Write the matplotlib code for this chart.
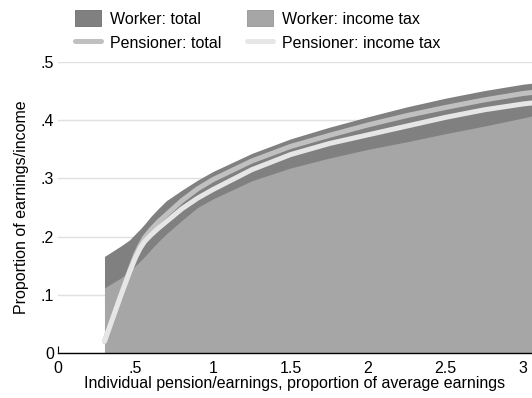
import matplotlib.pyplot as plt
from matplotlib.patches import Patch
from matplotlib.lines import Line2D

plt.rcParams['font.family'] = ['Liberation Sans', 'DejaVu Sans']

# earnings / pension as a proportion of average earnings
x = [0.3, 0.4, 0.46, 0.5, 0.53, 0.56, 0.6, 0.65, 0.7, 0.8, 0.9, 1.0,
     1.25, 1.5, 1.75, 2.0, 2.25, 2.5, 2.75, 3.0, 3.1]

worker_total = [0.166, 0.183, 0.194, 0.205, 0.213, 0.222, 0.235, 0.249,
                0.262, 0.280, 0.297, 0.312, 0.343, 0.368, 0.388, 0.406,
                0.423, 0.438, 0.451, 0.462, 0.465]
worker_tax = [0.112, 0.128, 0.140, 0.150, 0.158, 0.166, 0.178, 0.192,
              0.205, 0.228, 0.250, 0.265, 0.296, 0.318, 0.335, 0.350,
              0.363, 0.377, 0.390, 0.404, 0.410]
pens_total = [0.020, 0.095, 0.140, 0.168, 0.185, 0.199, 0.212, 0.226,
              0.238, 0.262, 0.282, 0.298, 0.330, 0.355, 0.374, 0.392,
              0.408, 0.422, 0.435, 0.446, 0.449]
pens_tax = [0.020, 0.095, 0.138, 0.164, 0.180, 0.192, 0.203, 0.215,
            0.226, 0.248, 0.266, 0.281, 0.315, 0.341, 0.360, 0.375,
            0.390, 0.405, 0.418, 0.428, 0.431]

xticks = [0, 0.5, 1, 1.5, 2, 2.5, 3]
xtick_labels = ['0', '.5', '1', '1.5', '2', '2.5', '3']
yticks = [0, 0.1, 0.2, 0.3, 0.4, 0.5]
ytick_labels = ['0', '.1', '.2', '.3', '.4', '.5']

c_wtot = '#808080'
c_wtax = '#a6a6a6'
c_ptot = '#c0c0c0'
c_ptax = '#e6e6e6'

fig = plt.figure(figsize=(5.32, 3.98), dpi=100)
ax = fig.add_axes([0.109, 0.113, 0.891, 0.731])

ax.fill_between(x, 0, worker_total, color=c_wtot, lw=0)
ax.fill_between(x, 0, worker_tax, color=c_wtax, lw=0)
ax.plot(x, pens_total, color=c_ptot, lw=3.6, solid_capstyle='round',
        solid_joinstyle='round')
ax.plot(x, pens_tax, color=c_ptax, lw=3.6, solid_capstyle='round',
        solid_joinstyle='round')

ax.set_xlim(0, 3.058)
ax.set_ylim(0, 0.5)
ax.set_xticks(xticks)
ax.set_xticklabels(xtick_labels)
ax.set_yticks(yticks)
ax.set_yticklabels(ytick_labels)
ax.tick_params(axis='x', direction='in', length=5, width=0.8,
               labelsize=11.5, pad=6)
ax.tick_params(axis='y', length=0, labelsize=11.5, pad=3)
ax.grid(axis='y', color='#e0e0e0', lw=1)
ax.set_axisbelow(True)
for s in ['top', 'right', 'left']:
    ax.spines[s].set_visible(False)
ax.spines['bottom'].set_linewidth(1)

ax.set_xlabel('Individual pension/earnings, proportion of average earnings',
              fontsize=11.5, labelpad=0)
ax.set_ylabel('Proportion of earnings/income', fontsize=11.5, labelpad=8)

handles = [
    Patch(facecolor=c_wtot, edgecolor='#6e6e6e', lw=0.6),
    Line2D([], [], color=c_ptot, lw=3.6, solid_capstyle='round'),
    Patch(facecolor=c_wtax, edgecolor='#969696', lw=0.6),
    Line2D([], [], color=c_ptax, lw=3.6, solid_capstyle='round'),
]
labels = ['Worker: total', 'Pensioner: total',
          'Worker: income tax', 'Pensioner: income tax']
fig.legend(handles, labels, ncol=2, loc='upper left',
           bbox_to_anchor=(0.141, 0.975), frameon=False, fontsize=11.5,
           handlelength=1.6, handleheight=1.2, handletextpad=0.6,
           columnspacing=1.6, labelspacing=0.5, borderaxespad=0,
           borderpad=0)

fig.savefig('out.png', dpi=100)
